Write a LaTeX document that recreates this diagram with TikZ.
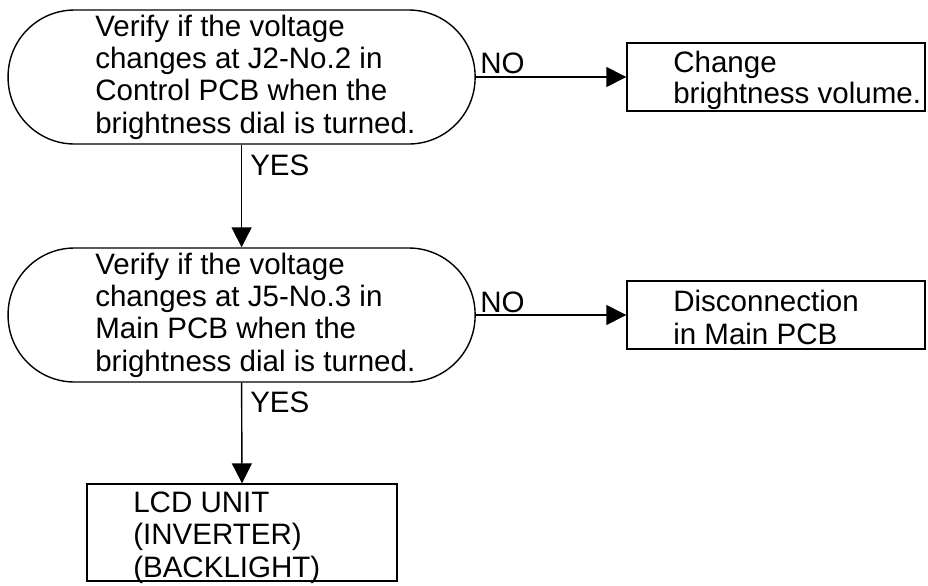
\documentclass[tikz,border=0pt]{standalone}
\usepackage{fontspec}
\setmainfont{Liberation Sans}
\usetikzlibrary{arrows.meta}

\tikzset{
  flowline/.style={line width=1pt, -{Triangle[length=0.5cm,width=0.5cm]}},
  decisionbox/.style={draw, line width=1pt, rounded corners=1.66cm, minimum width=11.675cm, minimum height=3.35cm, inner sep=0pt},
  resultbox/.style={draw, line width=1pt, minimum width=7.45cm, minimum height=1.7cm, inner sep=0pt},
  flowtext/.style={anchor=base west, inner sep=0pt, align=left, font=\fontsize{21}{22.8}\selectfont},
}

\begin{document}
\begin{tikzpicture}
\useasboundingbox (0,0) rectangle (23.2,-14.625);
% decisions
\node[decisionbox] (checkjtwo) at (6.04,-1.925) {};
\node[flowtext] (checkjtwotext) at (2.375,-3.325) {Verify if the voltage\\changes at J2-No.2 in\\Control PCB when the\\brightness dial is turned.};
\node[decisionbox] (checkjfive) at (6.04,-7.875) {};
\node[flowtext] (checkjfivetext) at (2.375,-9.275) {Verify if the voltage\\changes at J5-No.3 in\\Main PCB when the\\brightness dial is turned.};
% results
\node[resultbox] (changevol) at (19.4,-1.925) {};
\node[flowtext, font=\fontsize{21}{21.5}\selectfont] (changevoltext) at (16.825,-2.575) {Change\\brightness volume.};
\node[resultbox] (mainpcb) at (19.4,-7.875) {};
\node[flowtext] (mainpcbtext) at (16.825,-8.6) {Disconnection\\in Main PCB};
\node[resultbox, minimum width=7.75cm, minimum height=2.425cm] (lcdunit) at (6.05,-13.3125) {};
\node[flowtext, font=\fontsize{21}{23.1}\selectfont] (lcdunittext) at (3.325,-14.425) {LCD UNIT\\(INVERTER)\\(BACKLIGHT)};
% connectors
\draw[flowline] (checkjtwo.east) -- (changevol.west);
\node[flowtext] (notwo) at (12.0,-1.825) {NO};
\draw[flowline] (checkjtwo.south) -- (checkjfive.north);
\node[flowtext] (yestwo) at (6.25,-4.375) {YES};
\draw[flowline] (checkjfive.east) -- (mainpcb.west);
\node[flowtext] (nofive) at (12.0,-7.8) {NO};
\draw[flowline] (checkjfive.south) -- (lcdunit.north);
\node[flowtext] (yesfive) at (6.25,-10.3) {YES};
\end{tikzpicture}
\end{document}
